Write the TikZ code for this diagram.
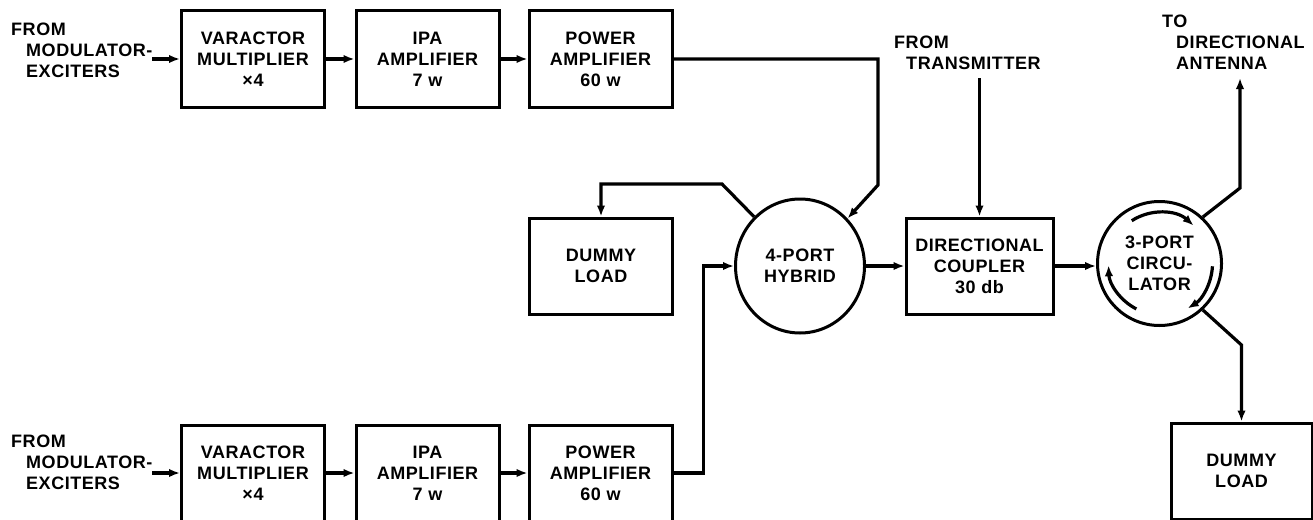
\documentclass[tikz,border=0pt]{standalone}
\usepackage{fontspec}
\setmainfont{Liberation Sans}[LetterSpace=3]
\usetikzlibrary{shapes.geometric, arrows.meta}

\tikzset{
  blk/.style={draw=black, line width=3pt, minimum width=143pt, minimum height=96pt, align=center, inner sep=0pt},
  port/.style={draw=black, line width=3pt, inner sep=0pt, align=center},
  sig/.style={line width=3.2pt, -{Latex[length=11pt,width=8.5pt]}},
  lbl/.style={align=left, inner sep=0pt, anchor=west},
}

\begin{document}
\begin{tikzpicture}[x=1pt,y=1pt,font=\bfseries\fontsize{18}{21}\selectfont]
\useasboundingbox (0,0) rectangle (1313,-519);
\node[blk] (var1) at (253,-59) {VARACTOR\\MULTIPLIER\\×4};
\node[blk] (ipa1) at (427.5,-59) {IPA\\AMPLIFIER\\7 w};
\node[blk] (pa1) at (600.5,-59) {POWER\\AMPLIFIER\\60 w};
\node[blk] (var2) at (253,-473) {VARACTOR\\MULTIPLIER\\×4};
\node[blk] (ipa2) at (427.5,-473) {IPA\\AMPLIFIER\\7 w};
\node[blk] (pa2) at (600.5,-473) {POWER\\AMPLIFIER\\60 w};
\node[blk] (load1) at (601,-266) {DUMMY\\LOAD};
\node[blk, minimum width=147pt] (coup) at (979.5,-266) {DIRECTIONAL\\COUPLER\\30 db};
\node[blk, minimum width=141pt] (load2) at (1241.5,-471) {DUMMY\\LOAD};
\node[port, ellipse, minimum width=129pt, minimum height=134pt] (hyb) at (800,-266) {4-PORT\\HYBRID};
\node[port, circle, minimum size=124pt] (circ) at (1159.5,-263.5) {3-PORT\\CIRCU-\\LATOR};
\node[lbl] (src1) at (11,-50) {FROM\\\hspace*{15pt}MODULATOR-\\\hspace*{15pt}EXCITERS};
\node[lbl] (src2) at (11,-462) {FROM\\\hspace*{15pt}MODULATOR-\\\hspace*{15pt}EXCITERS};
\node[lbl] (tx) at (894,-52.5) {FROM\\\hspace*{12pt}TRANSMITTER};
\node[lbl] (ant) at (1162,-42) {TO\\\hspace*{14pt}DIRECTIONAL\\\hspace*{14pt}ANTENNA};
\coordinate (in1) at (152,-59);
\coordinate (in2) at (152,-473);
\coordinate (k1) at (878,-185);
\coordinate (k2) at (722,-184);
\coordinate (t0) at (979.5,-78);
\coordinate (a1) at (1240,-188);
\coordinate (a0) at (1240,-78);
\coordinate (b1) at (1241.5,-345);
\draw[sig] (in1) -- (var1);
\draw[sig] (var1) -- (ipa1);
\draw[sig] (ipa1) -- (pa1);
\draw[sig] (in2) -- (var2);
\draw[sig] (var2) -- (ipa2);
\draw[sig] (ipa2) -- (pa2);
\draw[sig] (pa1.east) -| (k1) -- (hyb.45);
\draw[sig] (hyb.133) -- (k2) -| (load1.north);
\draw[sig] (pa2.east) -- ++(30,0) |- (hyb.west);
\draw[sig] (hyb.east) -- (coup.west);
\draw[sig] (t0) -- (coup.north);
\draw[sig] (coup.east) -- (coup.east -| circ.west);
\draw[sig] (circ.47) -- (a1) -- (a0);
\draw[sig] (circ.-47) -- (b1) -- (load2.north);
\draw[sig] ([shift={(123:51)}]circ.center) arc[start angle=123, end angle=48, radius=51];
\draw[sig] ([shift={(-3:53)}]circ.center) arc[start angle=-3, end angle=-58, radius=53];
\draw[sig] ([shift={(-117:51)}]circ.center) arc[start angle=-117, end angle=-178, radius=51];
\end{tikzpicture}
\end{document}
